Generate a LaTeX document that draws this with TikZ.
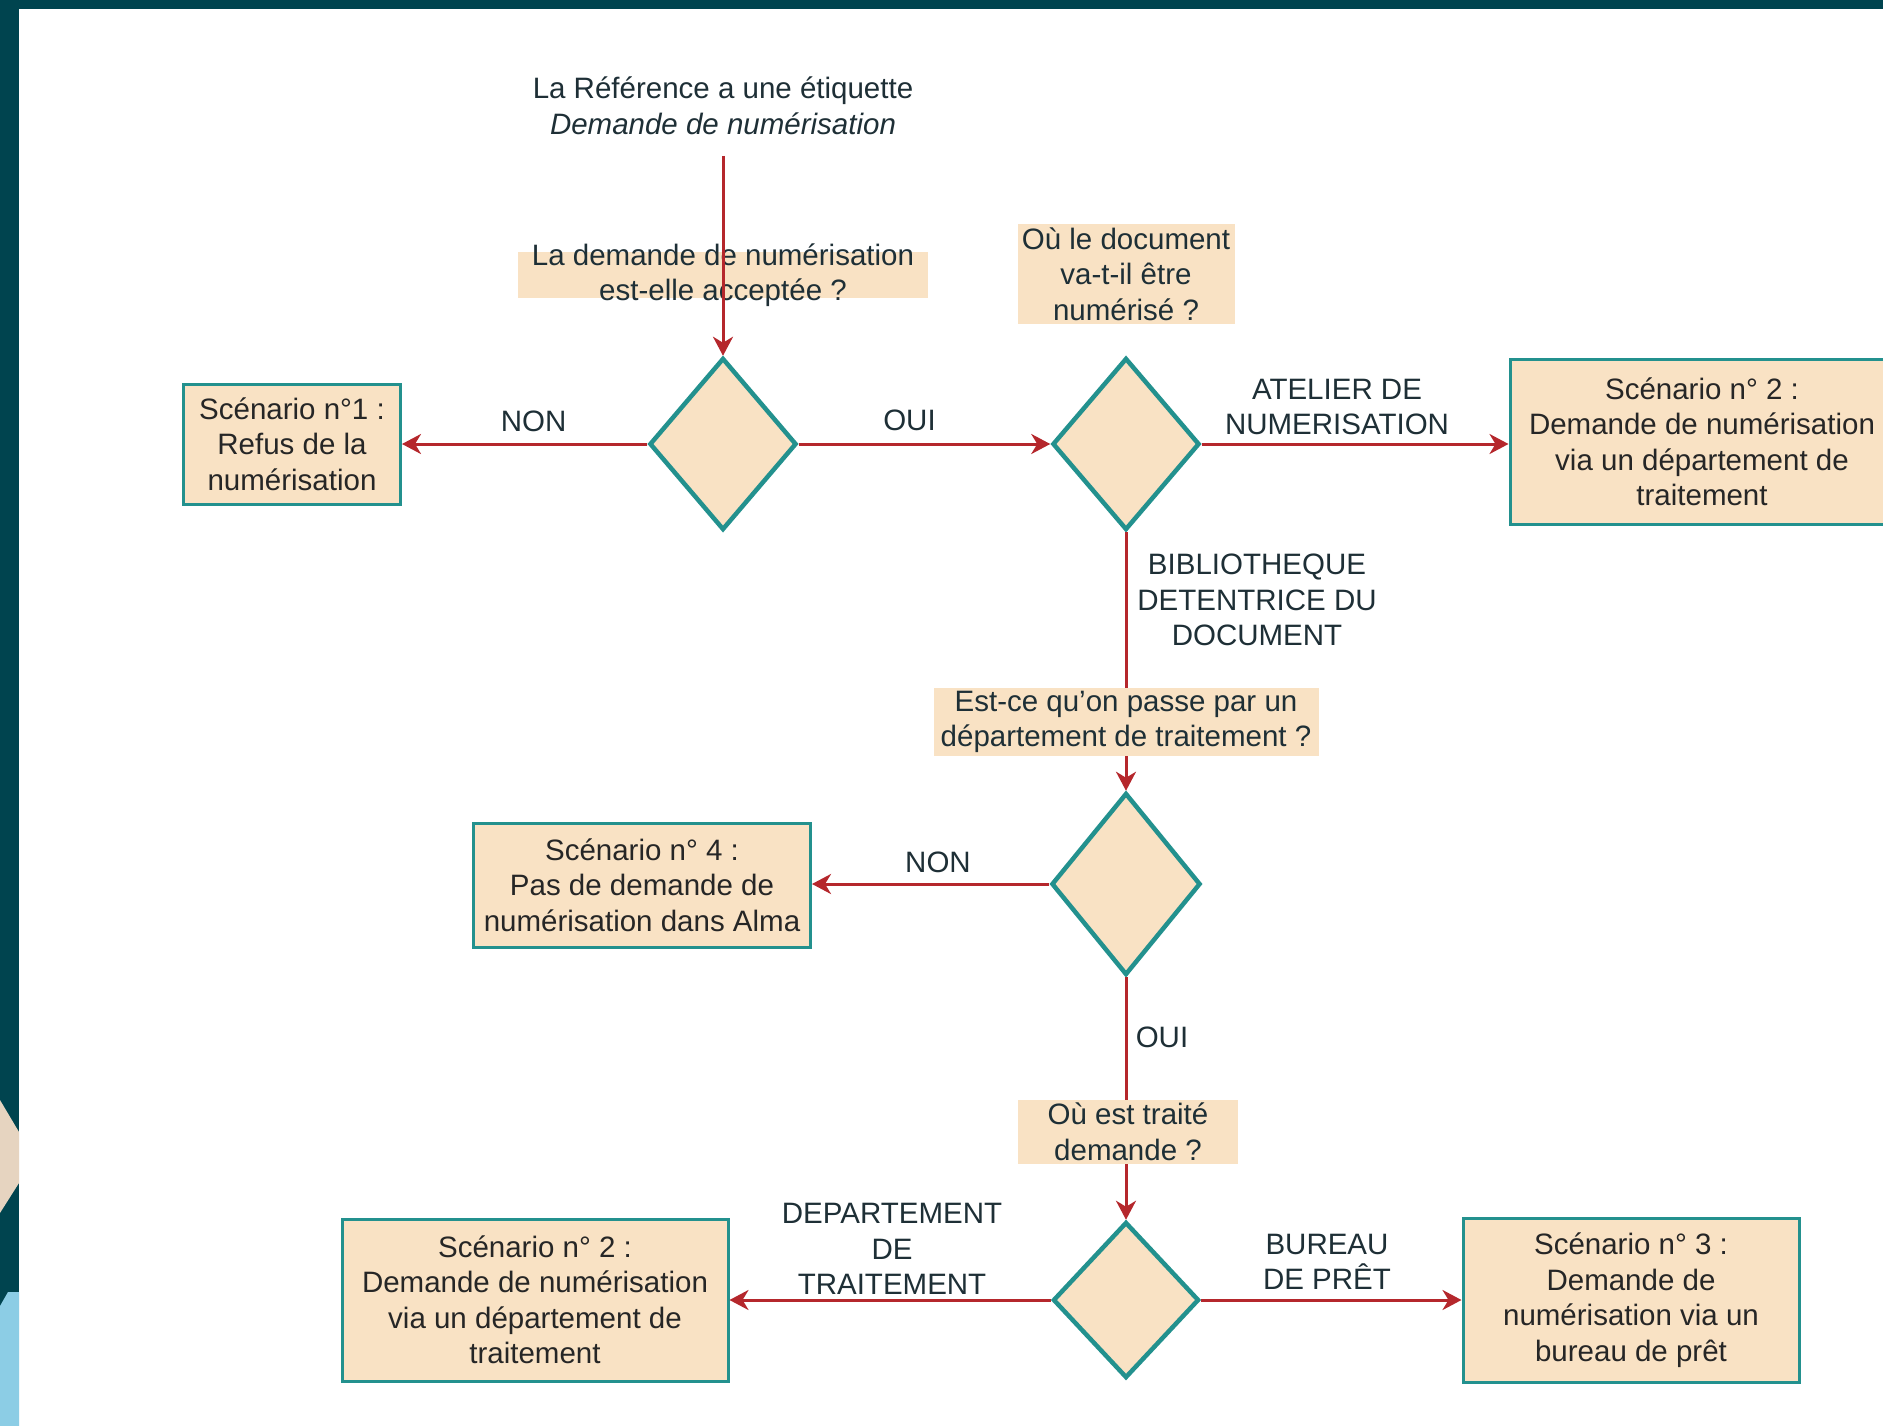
\documentclass[tikz,border=0pt]{standalone}
\usepackage{fontspec}
\setmainfont{Liberation Sans}
\usetikzlibrary{shapes.geometric,arrows.meta,calc,positioning}

\definecolor{darkteal}{HTML}{00444F}
\definecolor{sandhex}{HTML}{E6D4C0}
\definecolor{skyblue}{HTML}{8CCDE5}
\definecolor{peach}{HTML}{F9E2C4}
\definecolor{tealline}{HTML}{23918E}
\definecolor{arrowred}{HTML}{B5272C}
\definecolor{ink}{HTML}{1E2F36}

\begin{document}
\begin{tikzpicture}[x=1pt,y=-1pt,
	every node/.style={font=\fontsize{29.5}{35.5}\selectfont, text=ink, align=center, inner sep=0pt},
	decision/.style={diamond, draw=tealline, fill=peach, line width=4.5pt, minimum width=147pt, minimum height=172pt},
	scenario/.style={rectangle, draw=tealline, fill=peach, line width=3pt, text=black!85},
	question/.style={fill=peach, inner ysep=3pt},
	flow/.style={draw=arrowred, line width=3pt, -{Stealth[length=19pt,width=20pt,inset=6pt]}}]
	
	\useasboundingbox (0,0) rectangle (1883,1426);
	\clip (0,0) rectangle (1883,1426);
	\fill[white] (0,0) rectangle (1883,1426);
	\fill[darkteal] (0,0) rectangle (1883,9);
	\fill[darkteal] (0,0) rectangle (19,1426);
	\fill[sandhex] (0,1100) -- (19,1132) -- (19,1183) -- (0,1213) -- cycle;
	\fill[skyblue] (0,1306) -- (8,1292) -- (19,1292) -- (19,1426) -- (0,1426) -- cycle;
	
	\node (top) at (723,106) {La Référence a une étiquette\\\textit{Demande de numérisation}};
	\coordinate (start) at (723,156);
	\node[question, minimum width=410pt, inner ysep=-9pt] (q1) at (723,275) {La demande de numérisation\\est-elle acceptée ?};
	
	\node[decision] (d1) at (723,444) {};
	\node[decision] (d2) at (1126,444) {};
	\node[decision, minimum width=149pt, minimum height=182pt] (d3) at (1126,884) {};
	\node[decision, minimum width=146pt, minimum height=156pt] (d4) at (1126,1300) {};
	
	\node[scenario, minimum width=217pt, minimum height=120pt] (s1) at (292,444) {Scénario n°1 :\\Refus de la\\numérisation};
	\node[scenario, minimum width=384pt, minimum height=165pt] (s2) at (1702,442) {Scénario n° 2 :\\Demande de numérisation\\via un département de\\traitement};
	\node[scenario, minimum width=337pt, minimum height=124pt] (s4) at (642,885) {Scénario n° 4 :\\Pas de demande de\\numérisation dans Alma};
	\node[scenario, minimum width=386pt, minimum height=162pt] (s5) at (535,1300) {Scénario n° 2 :\\Demande de numérisation\\via un département de\\traitement};
	\node[scenario, minimum width=336pt, minimum height=164pt] (s6) at (1631,1300) {Scénario n° 3 :\\Demande de\\numérisation via un\\bureau de prêt};
	
	\draw[flow] (start) -- (d1.north);
	\draw[flow] (d1.west) -- (s1.east);
	\draw[flow] (d1.east) -- (d2.west);
	\draw[flow] (d2.east) -- (d2.east -| s2.west);
	\draw[flow] (d2.south) -- (d3.north);
	\draw[flow] (d3.west) -- (d3.west -| s4.east);
	\draw[flow] (d3.south) -- (d4.north);
	\draw[flow] (d4.west) -- (s5.east);
	\draw[flow] (d4.east) -- (s6.west);
	
	\node[question, minimum width=217pt] (q2) at (1126,274) {Où le document\\va-t-il être\\numérisé ?};
	\node[question, minimum width=385pt] (q3) at (1126,722) {Est-ce qu'on passe par un\\département de traitement ?};
	\node[question, minimum width=220pt] (q4) at (1128,1132) {Où est traité\\demande ?};
	
	\node (non1) at ($(d1.west)!0.5!(s1.east)+(9,-23)$) {NON};
	\node (oui1) at ($(d1.east)!0.5!(d2.west)+(-15,-24)$) {OUI};
	\node (atelier) at (1337,407) {ATELIER DE\\NUMERISATION};
	\node (biblio) at (1257,600) {BIBLIOTHEQUE\\DETENTRICE DU\\DOCUMENT};
	\node (non2) at (938,862) {NON};
	\node (oui2) at (1162,1037) {OUI};
	\node (dept) at (892,1249) {DEPARTEMENT\\DE\\TRAITEMENT};
	\node (bureau) at (1327,1262) {BUREAU\\DE PRÊT};
\end{tikzpicture}
\end{document}
